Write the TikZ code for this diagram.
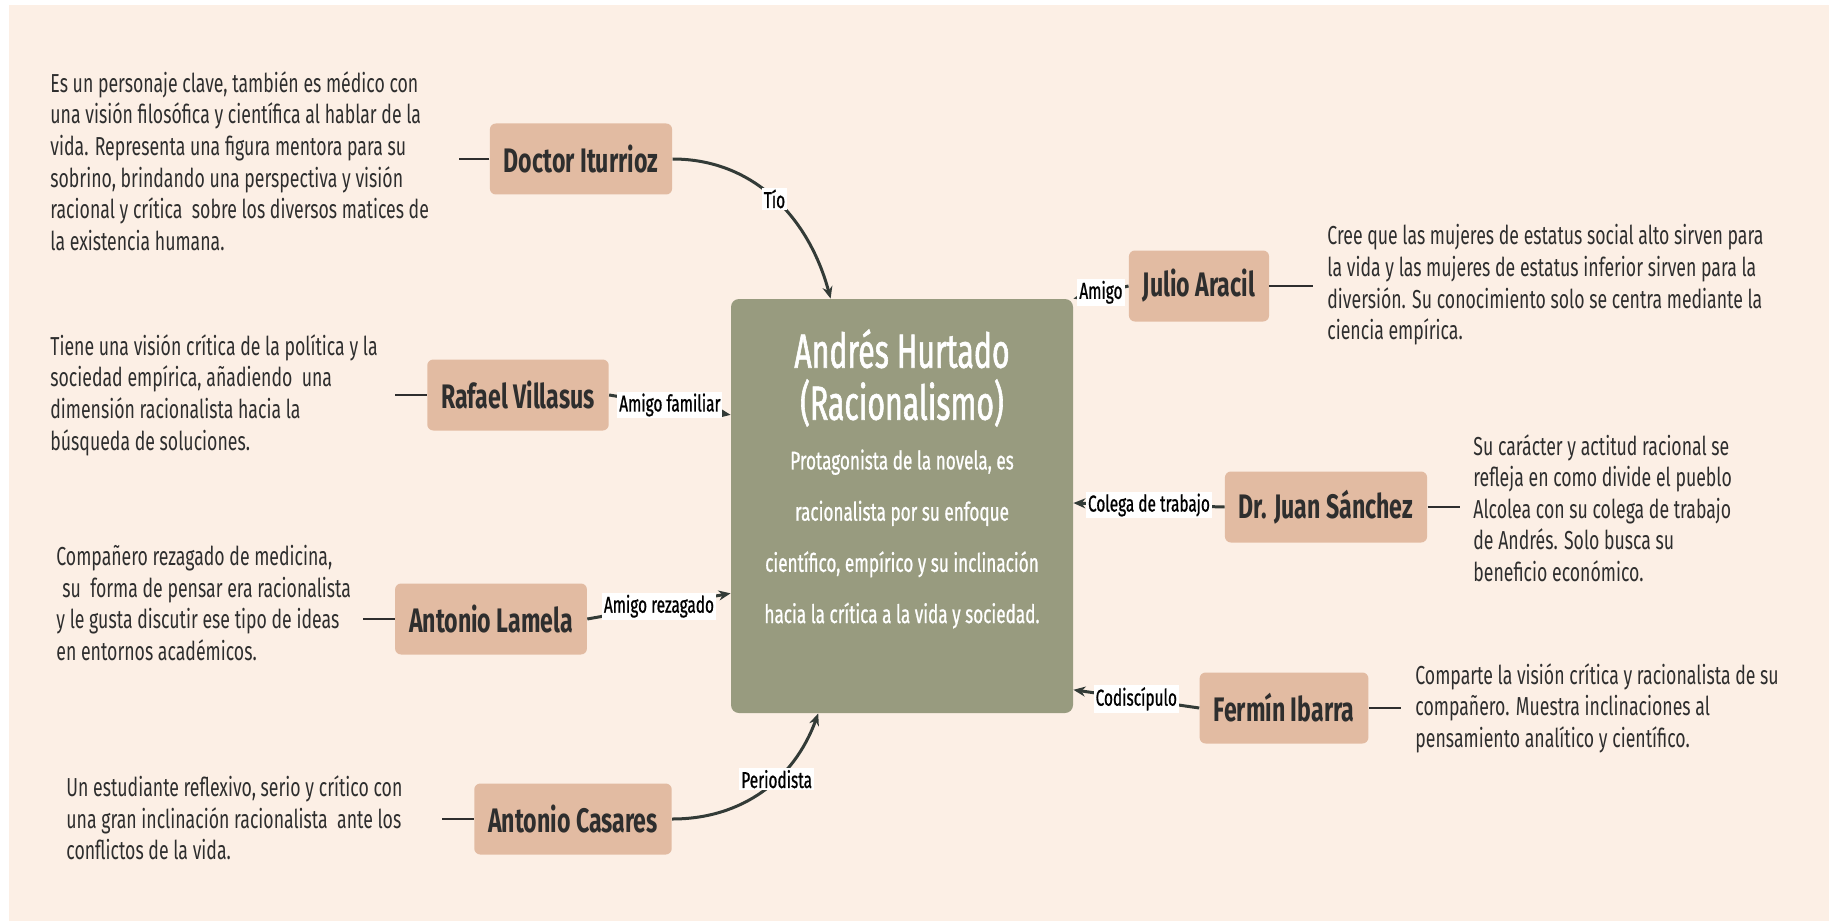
\documentclass[tikz,border=0pt]{standalone}
\usepackage{fontspec}
\setmainfont[FakeStretch=0.68]{Fira Sans}
\newfontfamily\herofont[FakeStretch=0.63,FakeBold=1.2]{Fira Sans}
\newfontfamily\medfont[FakeStretch=0.67,FakeBold=0.8]{Fira Sans}
\usetikzlibrary{arrows.meta,positioning}

\definecolor{bgcream}{HTML}{FCEFE5}
\definecolor{heroolive}{HTML}{989B7F}
\definecolor{boxsalmon}{HTML}{E2BBA2}
\definecolor{inkdark}{HTML}{2E2E2E}
\definecolor{linkgray}{HTML}{333B37}

\tikzset{
	person/.style={fill=boxsalmon, rounded corners=3pt, minimum height=35.5pt, inner xsep=7pt,
		text=inkdark, font=\bfseries\fontsize{17}{19}\selectfont},
	note/.style={anchor=west, align=left, inner xsep=0pt, text=inkdark, font=\fontsize{13}{15.8}\selectfont},
	link/.style={draw=linkgray, line width=1.5pt, -{Stealth[length=6pt,width=5pt]}},
	linklabel/.style={fill=white, inner sep=1pt, text=black, font=\medfont\fontsize{11.5}{13}\selectfont},
	stub/.style={draw=inkdark, line width=1.4pt}
}

\begin{document}
\begin{tikzpicture}[x=0.5pt,y=0.5pt]
	\useasboundingbox (0,0) rectangle (1829,923);
	\fill[bgcream] (9,2) rectangle (1829,918);

	% centro
	\node[fill=heroolive, rounded corners=4pt, minimum width=171pt, minimum height=207pt] (hero) at (902,417) {};
	\node[align=center, text=white, font=\herofont\fontsize{24}{26}\selectfont] (herotitle) at (902,545) {Andrés Hurtado\\(Racionalismo)};
	\node[align=center, text=white, font=\medfont\fontsize{12.8}{25.6}\selectfont] (herobody) at (902,384) {Protagonista de la novela, es\\racionalista por su enfoque\\científico, empírico y su inclinación\\hacia la crítica a la vida y sociedad.};

	% personajes
	\node[person] (doc) at (581,764) {Doctor Iturrioz};
	\node[person] (rafael) at (518,528) {Rafael Villasus};
	\node[person] (lamela) at (491,304) {Antonio Lamela};
	\node[person] (casares) at (573,104) {Antonio Casares};
	\node[person] (julio) at (1199,637) {Julio Aracil};
	\node[person] (juan) at (1326,416) {Dr. Juan Sánchez};
	\node[person] (fermin) at (1284,215) {Fermín Ibarra};

	% descripciones
	\node[note] (docnote) at (50,762) {Es un personaje clave, también es médico con\\una visión filosófica y científica al hablar de la\\vida. Representa una figura mentora para su\\sobrino, brindando una perspectiva y visión\\racional y crítica \ sobre los diversos matices de\\la existencia humana.};
	\node[note] (rafaelnote) at (50,528) {Tiene una visión crítica de la política y la\\sociedad empírica, añadiendo \ una\\dimensión racionalista hacia la\\búsqueda de soluciones.};
	\node[note] (lamelanote) at (56,320) {Compañero rezagado de medicina,\\\hspace{3pt}su \ forma de pensar era racionalista\\y le gusta discutir ese tipo de ideas\\en entornos académicos.};
	\node[note] (casaresnote) at (66,105) {Un estudiante reflexivo, serio y crítico con\\una gran inclinación racionalista \ ante los\\conflictos de la vida.};
	\node[note] (julionote) at (1327,638) {Cree que las mujeres de estatus social alto sirven para\\la vida y las mujeres de estatus inferior sirven para la\\diversión. Su conocimiento solo se centra mediante la\\ciencia empírica.};
	\node[note] (juannote) at (1473,415) {Su carácter y actitud racional se\\refleja en como divide el pueblo\\Alcolea con su colega de trabajo\\de Andrés. Solo busca su\\beneficio económico.};
	\node[note] (ferminnote) at (1415,215) {Comparte la visión crítica y racionalista de su\\compañero. Muestra inclinaciones al\\pensamiento analítico y científico.};

	% trazos cortos
	\coordinate[left=15pt of doc] (docstub);
	\coordinate[left=16pt of rafael] (rafaelstub);
	\coordinate[left=16pt of lamela] (lamelastub);
	\coordinate[left=16pt of casares] (casaresstub);
	\coordinate[right=22pt of julio] (juliostub);
	\coordinate[right=16pt of juan] (juanstub);
	\coordinate[right=16pt of fermin] (ferminstub);
	\draw[stub] (doc.west) -- (docstub);
	\draw[stub] (rafael.west) -- (rafaelstub);
	\draw[stub] (lamela.west) -- (lamelastub);
	\draw[stub] (casares.west) -- (casaresstub);
	\draw[stub] (julio.east) -- (juliostub);
	\draw[stub] (juan.east) -- (juanstub);
	\draw[stub] (fermin.east) -- (ferminstub);

	% relaciones
	\draw[link] (doc.east) to[out=0,in=105] node[linklabel,pos=.5]{Tío} (hero.109);
	\draw[link] (rafael.east) -- node[linklabel]{Amigo familiar} (hero.152);
	\draw[link] (lamela.east) -- node[linklabel]{Amigo rezagado} (hero.207);
	\draw[link] (casares.east) to[out=0,in=250] node[linklabel,pos=.6]{Periodista} (hero.248);
	\draw[link] (julio.west) -- node[linklabel]{Amigo} (hero.north east);
	\draw[link] (juan.west) -- node[linklabel]{Colega de trabajo} (hero.1);
	\draw[link] (fermin.west) -- node[linklabel]{Codiscípulo} (hero.313);
\end{tikzpicture}
\end{document}
